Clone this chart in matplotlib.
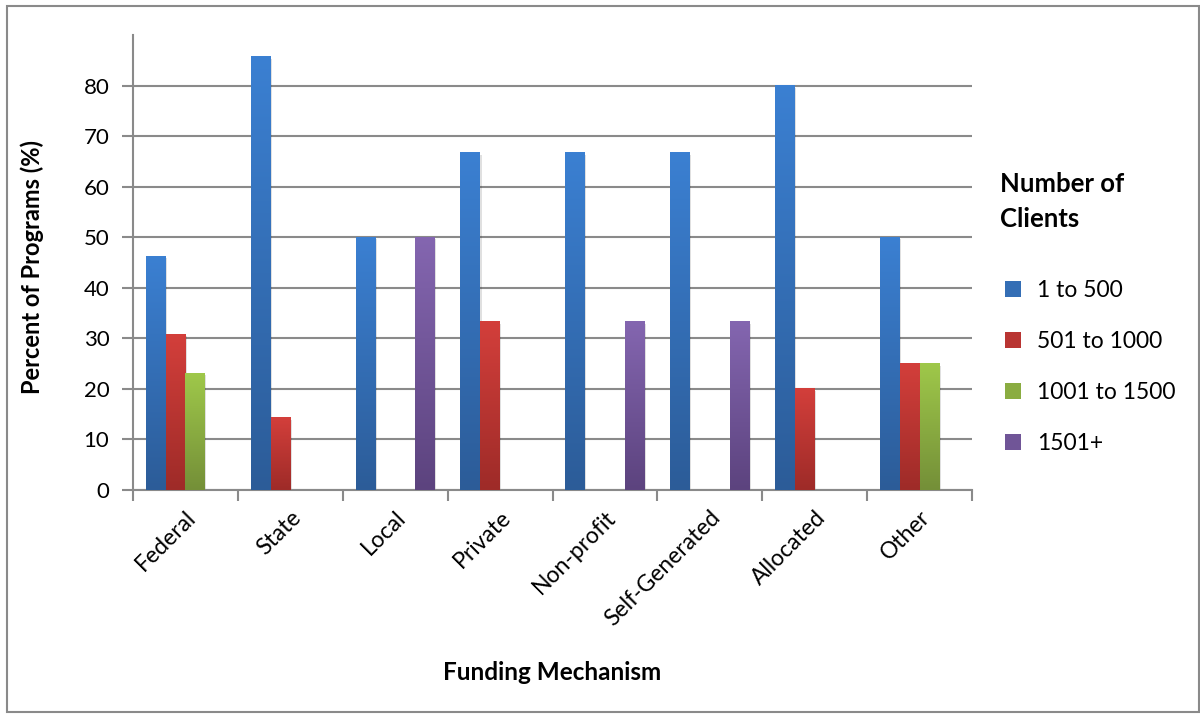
import numpy as np
import matplotlib
matplotlib.use("Agg")
import matplotlib.pyplot as plt
from matplotlib.colors import LinearSegmentedColormap
from matplotlib.patches import Rectangle

plt.rcParams['font.family'] = ['Lato', 'DejaVu Sans']

# ---------- data ----------
categories = ['Federal', 'State', 'Local', 'Private', 'Non-profit',
              'Self-Generated', 'Allocated', 'Other']
series_names = ['1 to 500', '501 to 1000', '1001 to 1500', '1501+']
clients_1_500 = [46.2, 85.7, 50.0, 66.7, 66.7, 66.7, 80.0, 50.0]
clients_501_1000 = [30.8, 14.3, 0.0, 33.3, 0.0, 0.0, 20.0, 25.0]
clients_1001_1500 = [23.1, 0.0, 0.0, 0.0, 0.0, 0.0, 0.0, 25.0]
clients_1501_plus = [0.0, 0.0, 50.0, 0.0, 33.3, 33.3, 0.0, 0.0]
y_ticks = [0, 10, 20, 30, 40, 50, 60, 70, 80]

# (top colour, bottom colour) for each series gradient
shades = [('#3b80d2', '#2c5c98'),
          ('#d33f3b', '#9e2b28'),
          ('#9fc84a', '#748f38'),
          ('#8466b0', '#5c437e')]

W, H = 1200, 715
fig = plt.figure(figsize=(W / 100, H / 100), dpi=100)
ax = fig.add_axes([133 / W, 1 - 490 / H, (972 - 133) / W, (490 - 35) / H])

# outer chart-area frame
fig.patches.append(Rectangle((7 / W, 3 / H), (W - 8) / W, (H - 9) / H,
                             transform=fig.transFigure, fill=False,
                             edgecolor='#8a8a8a', linewidth=1.5))

data = [clients_1_500, clients_501_1000, clients_1001_1500, clients_1501_plus]
n = len(series_names)
bw = 1.0 / (n + 1.3)
x = np.arange(len(categories))
grad = np.linspace(1, 0, 256).reshape(-1, 1)

handles = []
for i, (vals, name, (top, bot)) in enumerate(zip(data, series_names, shades)):
    offs = (i - (n - 1) / 2) * bw
    bars = ax.bar(x + 0.5 + offs, vals, width=bw, color=top, label=name,
                  zorder=3, linewidth=0)
    cmap = LinearSegmentedColormap.from_list(name, [bot, top])
    for b, v in zip(bars, vals):
        b.set_alpha(0)
        if v <= 0:
            continue
        x0, w = b.get_x(), b.get_width()
        # soft drop shadow
        ax.add_patch(Rectangle((x0 + 0.012, 0), w, v - 0.4, facecolor='#000000',
                               alpha=0.12, linewidth=0, zorder=2.5))
        ax.imshow(grad, extent=[x0, x0 + w, 0, v], aspect='auto', cmap=cmap,
                  vmin=0, vmax=1, zorder=3, interpolation='bilinear')
    handles.append(Rectangle((0, 0), 1, 1, facecolor=cmap(0.5), edgecolor='none'))

ax.set_xlim(0, len(categories))
ax.set_ylim(0, 90)
ax.set_yticks(y_ticks)
ax.set_xticks(np.arange(len(categories) + 1))
ax.set_xticklabels([])
ax.set_xticks(x + 0.5, minor=True)
ax.set_xticklabels(categories, minor=True, rotation=45, ha='right', va='top',
                   rotation_mode='anchor', fontsize=16.5)
ax.tick_params(axis='x', which='minor', length=0, pad=12)
ax.tick_params(axis='x', which='major', length=8, width=1.5, color='#8a8a8a')
ax.tick_params(axis='y', length=8, width=1.5, color='#8a8a8a', labelsize=16, pad=9)

ax.grid(axis='y', color='#8a8a8a', linewidth=1.5, zorder=0)
ax.set_axisbelow(True)
for s in ['top', 'right']:
    ax.spines[s].set_visible(False)
for s in ['left', 'bottom']:
    ax.spines[s].set_color('#8a8a8a')
    ax.spines[s].set_linewidth(1.5)

fig.text(32 / W, 1 - 267 / H, 'Percent of Programs (%)', rotation=90,
         ha='center', va='center', fontsize=17, fontweight='bold')
fig.text(552 / W, 1 - 672 / H, 'Funding Mechanism', ha='center', va='center',
         fontsize=17.5, fontweight='bold')

fig.text(1000 / W, 1 - 172 / H, 'Number of\nClients', ha='left', va='top',
         fontsize=18.5, fontweight='bold', linespacing=1.55)
fig.legend(handles, series_names, loc='upper left',
           bbox_to_anchor=(996 / W, 1 - 271 / H), frameon=False, fontsize=16.5,
           handlelength=0.7, handleheight=0.7, handletextpad=0.7,
           labelspacing=1.3, borderaxespad=0)

fig.savefig('out.png', dpi=100)
